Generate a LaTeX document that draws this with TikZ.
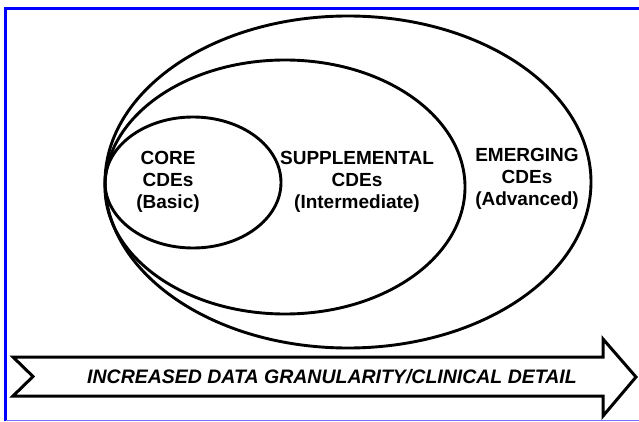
\documentclass[tikz,border=0pt]{standalone}
\usepackage{fontspec}
\setmainfont{Liberation Sans}
\tikzset{ring/.style={line width=2.9pt},
	tag/.style={align=center, inner sep=0pt, font=\fontsize{19}{22}\selectfont\bfseries}}

\begin{document}
\begin{tikzpicture}[x=1pt,y=1pt]
	\useasboundingbox (0,0) rectangle (639,421);
	\draw[blue, line width=3pt] (639,412.5) -- (5.5,412.5) -- (5.5,0);
	\draw[blue!55, line width=1.5pt] (5.5,0.75) -- (639,0.75);
	\draw[ring] (348,239) ellipse (243 and 166);
	\draw[ring] (285,234) ellipse (180 and 127);
	\draw[ring] (193,238.5) ellipse (88 and 65.5);
	\node[tag] (core) at (168,239) {CORE\\CDEs\\(Basic)};
	\node[tag] (supp) at (357,239) {SUPPLEMENTAL\\CDEs\\(Intermediate)};
	\node[tag] (emer) at (527,242.5) {EMERGING\\CDEs\\(Advanced)};
	% arrow along the bottom
	\draw[line width=3pt, line join=miter] (13,64) -- (603,64) -- (603,82) -- (636,44)
		-- (603,5) -- (603,25) -- (13,25) -- (33,44.5) -- cycle;
	\node[tag, font=\fontsize{19.5}{22}\selectfont\bfseries\itshape] (detail) at (332,44)
		{INCREASED DATA GRANULARITY/CLINICAL DETAIL};
\end{tikzpicture}
\end{document}
